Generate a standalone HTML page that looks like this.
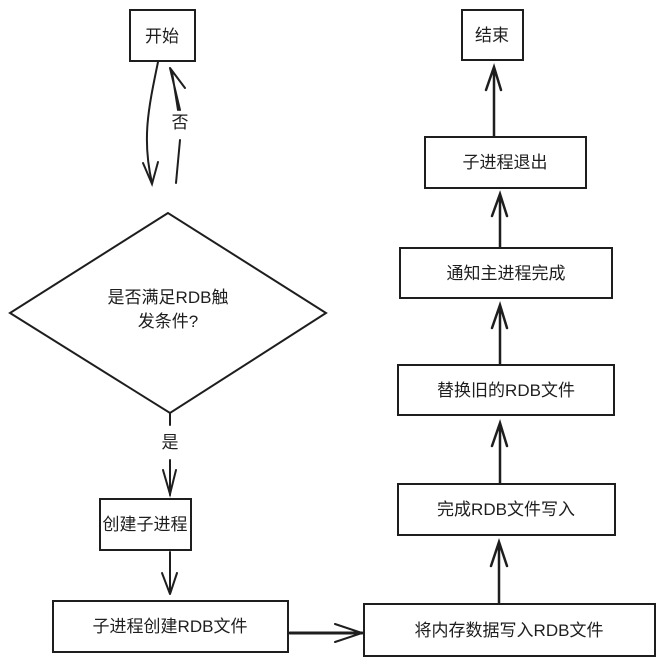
<!DOCTYPE html>
<html><head><meta charset="utf-8"><style>
body{margin:0;background:#fff;width:657px;height:665px;overflow:hidden}
svg text{font-family:"Liberation Sans","Noto Sans CJK SC",sans-serif;font-size:17px;fill:#1e1e1e}
</style></head><body>
<svg width="657" height="665" viewBox="0 0 657 665" fill="none" stroke="#1e1e1e" stroke-width="2" stroke-linecap="round">
<rect x="130" y="10" width="65" height="51"/>
<text x="162" y="42" text-anchor="middle" stroke="none">开始</text>
<path d="M158 62 C148 110 142 140 152 183"/>
<path d="M143 163 L152 184 L158 162"/>
<path d="M176 183 L180 140"/>
<path d="M180 110 L170 68 M170 68 L185 88 M172 72 L178 110"/>
<text x="180" y="128" text-anchor="middle" stroke="none">否</text>
<path d="M168 213 L10 313 L170 413 L326 313 Z"/>
<text x="168" y="303" text-anchor="middle" stroke="none">是否满足RDB触</text>
<text x="168" y="327" text-anchor="middle" stroke="none">发条件?</text>
<path d="M170 413 L170 425 M170 460 L170 495"/>
<path d="M163 470 L170 494 L176 470"/>
<text x="170" y="448" text-anchor="middle" stroke="none">是</text>
<rect x="100" y="499" width="91" height="51"/>
<text x="145" y="530" text-anchor="middle" stroke="none">创建子进程</text>
<path d="M170 552 L170 594 M162 573 L170 594 M177 573 L170 594"/>
<rect x="53" y="601" width="235" height="51"/>
<text x="170" y="632" text-anchor="middle" stroke="none">子进程创建RDB文件</text>
<path d="M290 633 L362 633" stroke-width="3"/>
<path d="M335 624 L362 633 L335 642"/>
<rect x="364" y="604" width="291" height="52"/>
<text x="509" y="636" text-anchor="middle" stroke="none">将内存数据写入RDB文件</text>
<path d="M499 603 L499 542 M491 566 L499 542 L507 566" stroke-width="2.5"/>
<rect x="398" y="484" width="217" height="51"/>
<text x="506" y="515" text-anchor="middle" stroke="none">完成RDB文件写入</text>
<path d="M500 483 L500 423 M492 446 L500 423 L507 446" stroke-width="2.5"/>
<rect x="398" y="365" width="216" height="50"/>
<text x="506" y="396" text-anchor="middle" stroke="none">替换旧的RDB文件</text>
<path d="M500 364 L500 305 M492 328 L500 305 L507 328" stroke-width="2.5"/>
<rect x="400" y="248" width="212" height="50"/>
<text x="506" y="279" text-anchor="middle" stroke="none">通知主进程完成</text>
<path d="M500 247 L500 194 M492 216 L500 194 L507 216" stroke-width="2.5"/>
<rect x="425" y="137" width="161" height="51"/>
<text x="505" y="168" text-anchor="middle" stroke="none">子进程退出</text>
<path d="M494 136 L494 67 M486 90 L494 67 L501 90" stroke-width="2.5"/>
<rect x="462" y="10" width="61" height="50"/>
<text x="492" y="41" text-anchor="middle" stroke="none">结束</text>
</svg>
</body></html>
